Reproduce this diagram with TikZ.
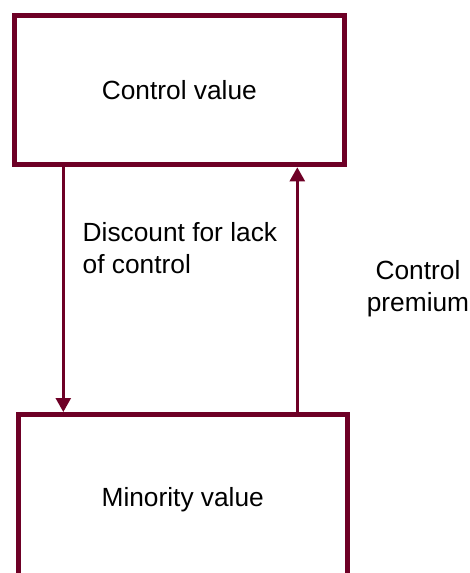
\documentclass[tikz,border=0pt]{standalone}
\usepackage{fontspec}
\setmainfont{Liberation Sans}
\usetikzlibrary{arrows.meta}
\definecolor{wine}{RGB}{110,0,38}
\tikzset{
  box/.style={draw=wine, line width=5pt, inner sep=0pt, text height=0.72em, text depth=0pt},
  arr/.style={draw=wine, line width=2.5pt, -{Triangle[width=15pt,length=14pt]}},
  lbl/.style={inner sep=0pt, align=#1},
}
\begin{document}
\begin{tikzpicture}[x=1pt,y=-1pt]
\useasboundingbox (0,0) rectangle (469,573);
\clip (0,0) rectangle (469,573);
\fontsize{26.3}{31.8}\selectfont
\node[box, minimum width=329.7pt, minimum height=149.3pt] (top) at (179.35,90.15) {Control value};
\node[box, minimum width=329.5pt, minimum height=164.4pt] (bot) at (182.75,496.7) {Minority value};
\coordinate (dn) at (63.3,0);
\coordinate (up) at (297.3,0);
\draw[arr] (top.south -| dn) -- (bot.north -| dn);
\draw[arr] (bot.north -| up) -- (top.south -| up);
\node[lbl=left, anchor=base west] (disc) at (82.5,273.3) {Discount for lack\\of control};
\node[lbl=center, anchor=base] (prem) at (418,311.3) {Control\\premium};
\end{tikzpicture}
\end{document}
